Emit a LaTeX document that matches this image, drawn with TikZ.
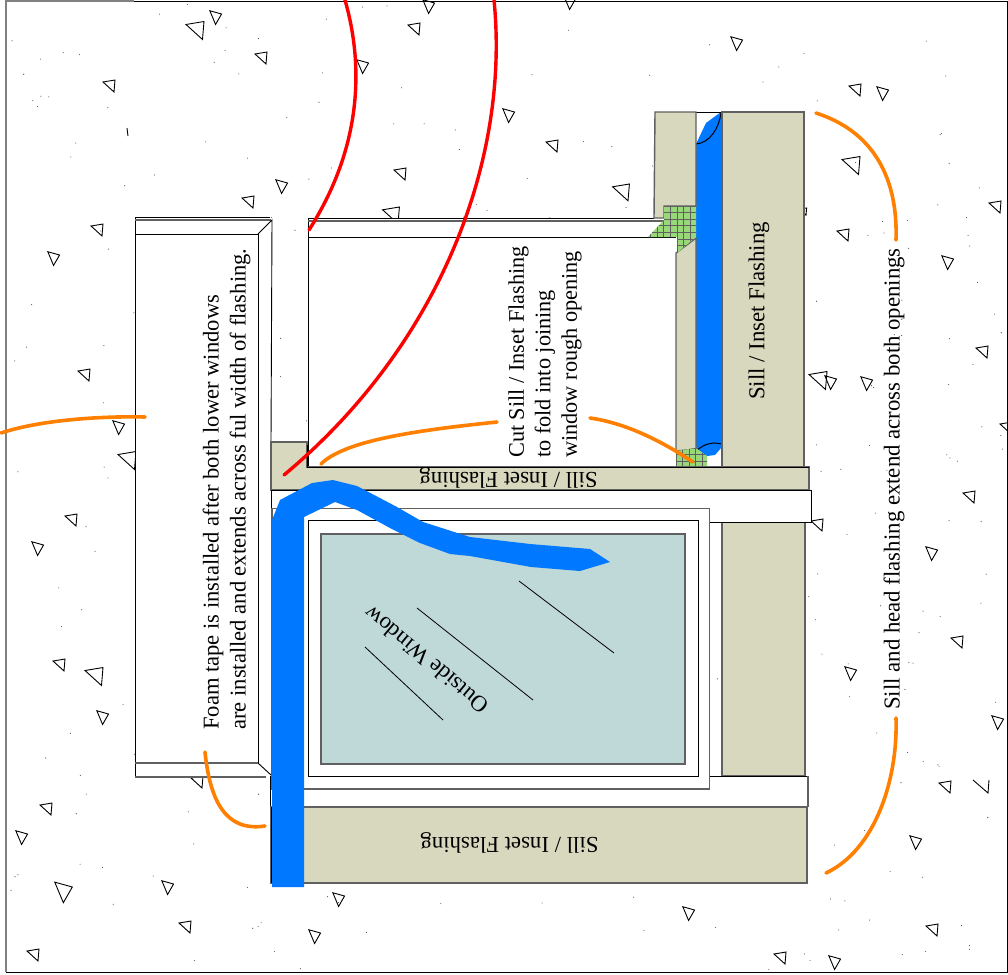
\documentclass[tikz,border=0pt]{standalone}
\usepackage{fontspec}
\setmainfont{Liberation Serif}
\usetikzlibrary{positioning}
\usetikzlibrary{calc}
\definecolor{flashbeige}{HTML}{D8D8BE}
\definecolor{glassblue}{HTML}{BFD8D8}
\definecolor{tapeblue}{HTML}{0078FF}
\definecolor{foamgreen}{HTML}{98D878}
\definecolor{notebrown}{HTML}{FF8000}
\definecolor{edgegray}{HTML}{606060}
\tikzset{
  flash/.style={fill=flashbeige,draw=edgegray,line width=1.4pt},
  note/.style={draw=notebrown,line width=3.6pt,line cap=round},
  redline/.style={draw=red,line width=3.4pt,line cap=round},
  label/.style={font=\fontsize{22.8}{27}\selectfont,inner sep=0pt},
  pebble/.style={draw=black,line width=0.9pt,line join=miter},
  patchgrid/.style={draw=edgegray,line width=0.9pt},
}
\begin{document}
\begin{tikzpicture}[x=1pt,y=-1pt]
\useasboundingbox (0,0) rectangle (1008,974);
% speckle
\pgfmathsetseed{4711}
\foreach \i in {1,...,330} {
  \pgfmathsetmacro{\dotx}{8+rnd*996}
  \pgfmathsetmacro{\doty}{4+rnd*966}
  \fill[black!70] (\dotx,\doty) circle (0.55pt);
}
% stones
\foreach \x/\y/\s/\r in {195/29/1.5/0,214/16/1/-25,261/57/1/0,109/85/1/0,280/185/1/-25,427/5/1/-25,414/28/1/0,
  361/65/1/-25,568/1/1/-25,735/42/1/-25,507/114/1/-25,552/145/1/0,400/173/1/0,621/191/1.4/0,248/201/1/0,391/214/1.4/0,
  855/89/1/0,881/92/1/-25,851/164/1.5/0,843/234/1/0,995/206/1/0,946/261/1/-25,982/351/1/0,865/382/1/-25,818/379/1.5/0,
  829/381/1/-25,97/229/1/0,52/257/1/-25,84/374/1/0,117/426/1/-25,127/459/1.5/0,71/519/1/0,36/547/1/-25,59/664/1/0,
  94/675/1.5/0,101/716/1/-25,197/781/1/0,46/808/1/0,20/836/1/-25,61/890/1.5/-25,166/886/1/-25,185/926/1/0,33/954/1/0,
  313/935/1/-25,337/898/1/-25,687/912/1/-25,780/957/1/0,833/961/1/-25,932/929/1/0,914/841/1/-25,945/786/1/0,
  996/721/1/-25,849/672/1/-25,957/641/1/0,930/552/1/-25,969/496/1/0,817/524/1/0,803/211/0.6/0,1006/427/1/0} {
  \draw[pebble,shift={(\x,\y)},rotate=\r,scale=\s] (-6,-3) -- (6,-5) -- (5,7) -- cycle;
}
\draw[pebble] (973,780) -- (988,793) -- (989,780);
\draw[pebble] (127,128) -- (128,136);
% frame
\draw[black,line width=0.9pt] (6,1) rectangle (1007,972);
\draw[gray,line width=1.6pt] (6,972) -- (6,1) -- (134,1);
% foam tape opening
\fill[white] (135,217) rectangle (271,777);
\draw[line width=1pt] (135,777) -- (135,217) -- (270,217);
\draw[edgegray,line width=1.2pt] (135,220) -- (271,220);
\draw[line width=0.9pt] (135,234) -- (258,234) -- (258,763);
\draw[line width=0.9pt] (258,234) -- (272,220) -- (271,442);
\draw[line width=0.9pt] (258,763) -- (271,775);
\draw[edgegray,line width=1.2pt] (135,763) -- (258,763);
\draw[edgegray,line width=2pt] (135,776.5) -- (266,776.5);
% rough opening
\fill[white] (308,218) rectangle (676,467);
\draw[line width=1pt] (308,467) -- (308,218) -- (654,218);
\draw[edgegray,line width=1.2pt] (308,221) -- (664,221);
\draw[line width=1pt] (308,237) -- (676,237);
% upper sill pieces
\fill[white] (696,112) rectangle (722,468);
\fill[tapeblue] (696,144) -- (706,123) -- (721,112) -- (722,112) -- (722,447) -- (715,455) -- (707,456) -- (696,450) -- cycle;
\draw[line width=1pt] (696,112) -- (722,112);
\draw[line width=1pt] (696,144) .. controls (710,143) and (719,128) .. (721,113);
\draw[line width=1pt] (696,451) .. controls (705,443) and (713,442) .. (722,444);
\draw[flash] (655,112) -- (696,112) -- (696,206) -- (664,206) -- (664,218) -- (654,218) -- cycle;
\draw[flash] (722,112) -- (804,112) -- (804,468) -- (722,468) -- cycle;
\draw[flash] (676,253) -- (696,238) -- (696,449) -- (676,451) -- cycle;
% flashing corner patches
\begin{scope}
\clip (664,206) -- (696,206) -- (696,237) -- (677,253) -- (677,237) -- (648,237) -- (664,220) -- cycle;
\fill[foamgreen] (640,200) rectangle (700,260);
\foreach \k in {0,...,8} {
  \draw[patchgrid] (644+\k*6.6,200) -- (644+\k*6.6,260);
  \draw[patchgrid] (640,206+\k*6.6) -- (700,206+\k*6.6);
}
\end{scope}
\begin{scope}
\clip (676,451) -- (696,448) -- (707,456) -- (707,468) -- (676,468) -- cycle;
\fill[foamgreen] (670,445) rectangle (710,470);
\foreach \k in {0,...,5} {
  \draw[patchgrid] (676+\k*6.6,445) -- (676+\k*6.6,470);
  \draw[patchgrid] (670,468-\k*6.6) -- (710,468-\k*6.6);
}
\end{scope}
% lower sill
\draw[flash] (722,522) rectangle (805,776);
\draw[flash] (271,442) -- (307,442) -- (307,467) -- (809,467) -- (809,490) -- (271,490) -- cycle;
\draw[line width=1pt] (307,467) -- (307,445);
\draw[line width=1pt] (307,467) -- (809,467);
\fill[white] (271,490) rectangle (811,522);
\draw[line width=1pt] (271,490) -- (811,490) -- (811,522) -- (709,522);
\draw[line width=1pt] (271,490) -- (271,776);
\draw[fill=white,line width=1pt] (270,776) rectangle (807,807);
\draw[edgegray,line width=2pt] (808,776) -- (808,807);
\draw[flash] (271,807) rectangle (807,883);
\draw[line width=1pt] (271,807) -- (271,883);
% window
\draw[fill=white,draw=edgegray,line width=1.4pt] (272,508.5) rectangle (709.5,789);
\draw[fill=white,line width=1pt] (308,520) rectangle (698,776);
\draw[fill=glassblue,draw=edgegray,line width=1.2pt] (321,534) rectangle (685,764);
\draw[line width=0.8pt] (365,647) -- (443,720);
\draw[line width=0.8pt] (417,608) -- (533,700);
\draw[line width=0.8pt] (519,581) -- (614,653);
% tape over the window
\fill[tapeblue] (272,887) -- (272,520) -- (280,500) -- (312,483) -- (333,480) -- (357,486) -- (397,507) -- (423,522)
  -- (470,537) -- (530,544) -- (590,549) -- (610,562) -- (580,571) -- (531,567) -- (470,556) -- (450,554) -- (420,543)
  -- (390,528) -- (357,510) -- (335,502) -- (304,517) -- (304,887) -- cycle;
% text
\node[label,rotate=180] (sillmid) at (508.5,478) {Sill / Inset Flashing};
\node[label,rotate=180] (sillbottom) at (509.5,843) {Sill / Inset Flashing};
\node[label,rotate=90] (sillupper) at (759,311) {Sill / Inset Flashing};
\node[label,rotate=140] (outside) at (426,660) {Outside Window};
\node[label,font=\fontsize{22.6}{27}\selectfont,rotate=90,anchor=west,align=left] (foam) at (226.5,730) {Foam tape is installed after both lower windows\\are installed and extends across ful width of flashing.};
\node[label,font=\fontsize{22.3}{26.5}\selectfont,rotate=90,anchor=west,align=left] (cutsill) at (545,458) {Cut Sill / Inset Flashing\\to fold into joining\\window rough opening};
\node[label,rotate=90] (extend) at (894,479) {Sill and head flashing extend across both openings};
% callouts
\draw[note] (1,433) .. controls (40,420) and (100,416) .. (145,417);
\draw[note] (205,752) .. controls (210,800) and (225,832) .. (265,826);
\draw[note] (321,464) .. controls (345,440) and (420,430) .. (497,422);
\draw[note] (590,418) .. controls (625,423) and (660,440) .. (693,462);
\draw[note] (816,113) .. controls (875,132) and (898,180) .. (896,240);
\draw[note] (826,873) .. controls (875,850) and (898,780) .. (896,718);
\draw[redline] (345,0) .. controls (365,70) and (360,150) .. (309,230);
\draw[redline] (494,0) .. controls (510,160) and (440,345) .. (284,475);
\end{tikzpicture}
\end{document}
